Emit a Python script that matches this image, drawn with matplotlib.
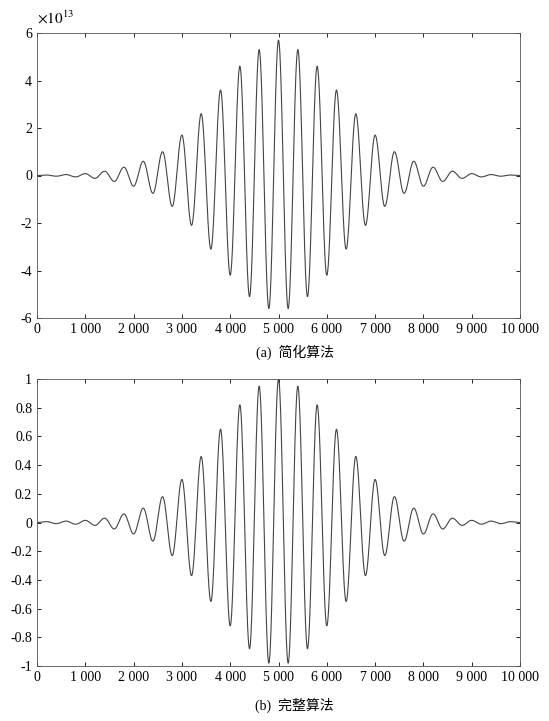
import numpy as np
import matplotlib
matplotlib.use("Agg")
import matplotlib.pyplot as plt

plt.rcParams['font.family'] = ['Liberation Serif', 'Noto Sans CJK SC']
plt.rcParams['mathtext.fontset'] = 'stix'

# extremum locations (sample index) and envelope amplitudes
ext_pos = list(range(200, 9801, 200))
amp_top_half = [5.7, 5.6, 5.3, 5.1, 4.6, 4.2, 3.6, 3.1, 2.6, 2.1, 1.7, 1.3, 1.0, 0.75, 0.6, 0.45, 0.35, 0.25, 0.18, 0.12, 0.08, 0.06, 0.04, 0.03, 0.02]
amp_bot_half = [1.0, 0.98, 0.95, 0.88, 0.82, 0.72, 0.65, 0.55, 0.46, 0.37, 0.30, 0.23, 0.18, 0.13, 0.10, 0.08, 0.06, 0.045, 0.03, 0.02, 0.015, 0.012, 0.01, 0.008, 0.006]
xticks = [0, 1000, 2000, 3000, 4000, 5000, 6000, 7000, 8000, 9000, 10000]
xticklabels = ['0', '1 000', '2 000', '3 000', '4 000', '5 000', '6 000', '7 000', '8 000', '9 000', '10 000']
captions = ['(a)  简化算法', '(b)  完整算法']

def build(amps):
    vals = []
    for p in ext_pos:
        d = abs(p - 5000) // 200
        sign = 1 if d % 2 == 0 else -1
        vals.append(sign * amps[d])
    xs = [0] + ext_pos + [10000]
    ys = [0.0] + vals + [0.0]
    xx, yy = [], []
    for i in range(len(xs) - 1):
        s = np.linspace(0, 1, 40, endpoint=False)
        xx.append(xs[i] + (xs[i+1]-xs[i]) * s)
        yy.append(ys[i] + (ys[i+1]-ys[i]) * (1 - np.cos(np.pi*s)) / 2)
    return np.concatenate(xx + [[10000]]), np.concatenate(yy + [[0.0]])

fig = plt.figure(figsize=(5.49, 7.21), dpi=100)
W, H = 549, 721
ax1 = fig.add_axes([37/W, 1-318/H, 483/W, 285/H])
ax2 = fig.add_axes([37/W, 1-666/H, 483/W, 287/H])

for ax, amps, ylim, yt, ytl, cap, cy in [
    (ax1, amp_top_half, (-6, 6), [-6, -4, -2, 0, 2, 4, 6], ['-6', '-4', '-2', '0', '2', '4', '6'], captions[0], 352),
    (ax2, amp_bot_half, (-1, 1), np.round(np.arange(-1, 1.01, 0.2), 1), ['-1', '-0.8', '-0.6', '-0.4', '-0.2', '0', '0.2', '0.4', '0.6', '0.8', '1'], captions[1], 705)]:
    x, y = build(amps)
    ax.plot(x, y, color='#444444', lw=0.8)
    ax.set_xlim(0, 10000)
    ax.set_ylim(*ylim)
    ax.set_xticks(xticks)
    ax.set_xticklabels(xticklabels, fontsize=10)
    ax.set_yticks(yt)
    ax.set_yticklabels(ytl, fontsize=10)
    ax.tick_params(direction='in', top=True, right=True, length=3, width=0.6)
    for sp in ax.spines.values():
        sp.set_linewidth(0.6)
        sp.set_color('#555555')
    fig.text(0.5 + 20/W, 1 - cy/H, cap, ha='center', va='center', fontsize=10)

fig.text(37/W, 1-18/H, r'$\times10^{13}$', ha='left', va='center', fontsize=11)
fig.savefig('out.png', dpi=100)
